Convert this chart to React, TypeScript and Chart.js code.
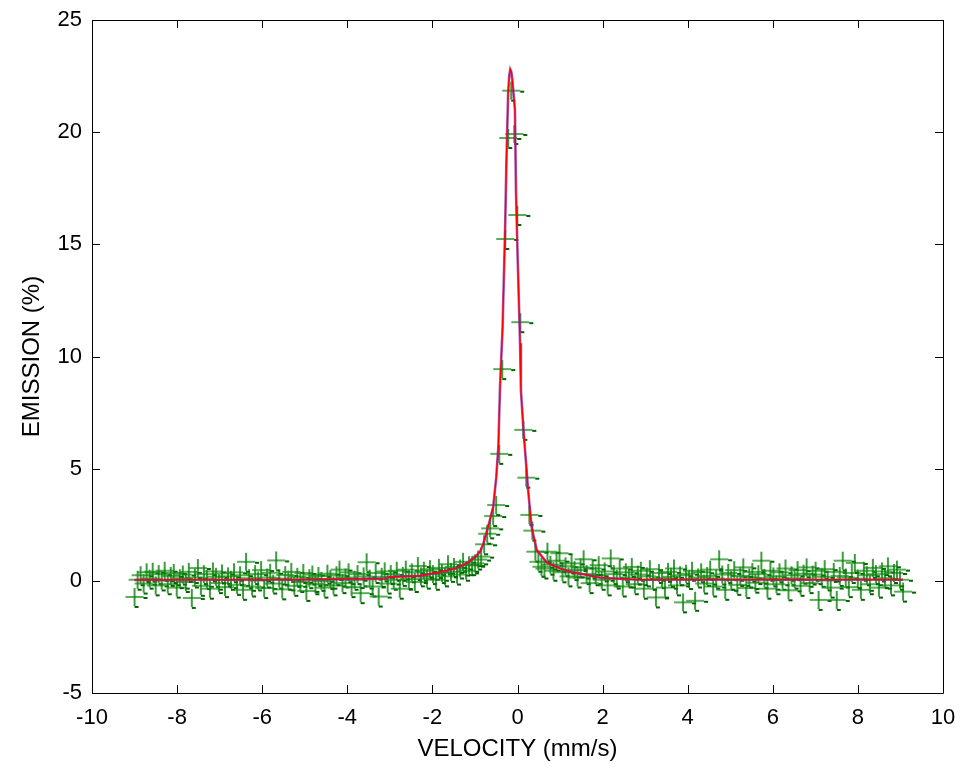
import React, { useEffect, useRef } from 'react';
import { Chart, registerables } from 'chart.js';

Chart.register(...registerables);

// Velocity calibration of the 256 channels (mm/s)
const velStart = -9;
const velEnd = 9.06;

// Measured emission (%) per channel
const emission = [
  -0.72, 0.05, 0.25, -0.12, 0.38, 0.10, 0.41, -0.20, 0.30, 0.02, 0.45, -0.15, 0.22, 0.35, -0.30, 0.12,
  0.28, -0.05, 0.40, -0.76, 0.15, 0.57, -0.22, 0.30, 0.08, -0.35, 0.42, 0.18, -0.10, 0.33, -0.28, 0.20,
  0.05, 0.38, -0.18, 0.25, -0.40, 0.85, 0.12, -0.25, 0.30, 0.02, 0.48, -0.32, 0.15, 0.36, -0.12, 0.91,
  0.10, -0.38, 0.26, 0.05, 0.40, -0.22, 0.18, -0.05, 0.35, -0.45, 0.12, 0.28, -0.15, 0.22, 0.00, -0.30,
  0.32, 0.08, -0.20, 0.25, 0.50, -0.10, 0.15, 0.38, -0.28, 0.05, 0.30, -0.55, 0.20, 0.83, 0.10, -0.25,
  0.35, -0.70, 0.18, 0.42, -0.12, 0.30, 0.05, 0.45, -0.35, 0.22, 0.50, 0.08, 0.38, -0.05, 0.66, 0.20,
  0.45, 0.10, 0.52, 0.30, 0.05, 0.58, 0.35, 0.20, 0.74, 0.40, 0.62, 0.28, 0.55, 0.85, 0.45, 0.70,
  0.70, 0.78, 0.95, 1.08, 1.63, 2.10, 2.34, 2.89, 3.38, 5.66, 9.44, 15.24, 19.74, 21.85, 19.92, 16.31,
  11.53, 6.73, 4.60, 2.94, 2.24, 1.30, 0.85, 0.63, 0.55, 1.30, 0.72, 0.45, 0.90, 1.23, 0.38, 0.65,
  0.20, 0.78, 0.48, 0.15, 0.60, 0.96, 0.30, -0.10, 0.55, 0.25, 0.70, 0.05, 0.42, -0.20, 1.00, 0.30,
  0.10, 0.55, -0.25, 0.38, 0.15, 0.62, -0.15, 0.28, 0.45, -0.35, 0.20, 0.52, 0.05, -0.74, 0.35, 0.12,
  -0.30, 0.40, 0.18, 0.55, -0.20, 0.25, -0.96, 0.32, 0.08, 0.45, -0.89, 0.15, 0.38, -0.12, 0.22, 0.50,
  -0.25, 0.10, 0.96, 0.28, -0.40, 0.35, 0.05, 0.48, -0.18, 0.22, 0.60, -0.32, 0.15, 0.40, -0.08, 0.30,
  0.90, 0.12, -0.35, 0.45, 0.20, -0.15, 0.38, 0.05, 0.55, -0.42, 0.25, 0.10, 0.48, -0.22, 0.32, 0.60,
  -0.10, 0.28, 0.45, -0.85, 0.18, 0.52, 0.02, -0.30, 0.40, -0.85, 0.22, 0.90, 0.15, -0.28, 0.35, 0.80,
  0.10, -0.40, 0.45, 0.25, -0.15, 0.58, 0.30, -0.30, 0.42, 0.12, 0.65, -0.20, 0.35, 0.50, 0.05, -0.48,
];

// Fitted curve
const fitVelocity = [
  -9, -5, -3.1, -3.0, -2.3, -1.9, -1.45, -1.2, -1.0, -0.88, -0.8, -0.72, -0.65, -0.57, -0.5, -0.45,
  -0.41, -0.35, -0.29, -0.26, -0.22, -0.195, -0.17, -0.145, -0.12, -0.06, -0.035, 0.005, 0.06, 0.08,
  0.14, 0.25, 0.33, 0.45, 0.69, 1.0, 1.23, 1.55, 1.94, 2.8, 9.06,
];
const fitEmission = [
  0.04, 0.05, 0.1, 0.17, 0.22, 0.36, 0.55, 0.78, 1.05, 1.3, 1.67, 2.2, 2.7, 3.31, 4.6, 5.98,
  8.7, 11.33, 15.79, 18.76, 21.74, 22.5, 22.8, 22.7, 22.3, 20.99, 17.28, 14.3, 10.59, 8.5,
  6.73, 4.05, 2.41, 1.38, 0.81, 0.56, 0.41, 0.29, 0.14, 0.05, 0.05,
];

const xTickValues = [-10, -8, -6, -4, -2, 0, 2, 4, 6, 8, 10];
const yTickValues = [-5, 0, 5, 10, 15, 20, 25];

const FONT = 'Arial, "Liberation Sans", Helvetica, sans-serif';

function makeMarker(): HTMLCanvasElement {
  const c = document.createElement('canvas');
  c.width = 32;
  c.height = 32;
  const g = c.getContext('2d')!;
  // horizontal arm (lighter, translucent)
  g.strokeStyle = 'rgba(20,140,20,0.7)';
  g.lineWidth = 2;
  g.beginPath();
  g.moveTo(7, 16);
  g.lineTo(25, 16);
  g.stroke();
  // vertical arm (darker)
  g.strokeStyle = 'rgba(0,125,0,0.95)';
  g.lineWidth = 1.6;
  g.beginPath();
  g.moveTo(16, 7);
  g.lineTo(16, 25);
  g.stroke();
  // small trailing dashes
  g.fillStyle = '#006400';
  g.fillRect(25, 16, 4, 2);
  g.fillRect(16, 25, 4, 2);
  return c;
}

const framePlugin = {
  id: 'frameTicks',
  afterDatasetsDraw(chart: any) {
    const { ctx, chartArea, scales } = chart;
    const { left, right, top, bottom } = chartArea;
    const x = scales.x;
    const y = scales.y;
    ctx.save();
    ctx.strokeStyle = '#000';
    ctx.lineWidth = 1;
    ctx.beginPath();
    ctx.rect(Math.round(left) + 0.5, Math.round(top) + 0.5, Math.round(right - left), Math.round(bottom - top));
    ctx.stroke();
    const tl = 8;
    ctx.beginPath();
    xTickValues.forEach((v) => {
      const px = Math.round(x.getPixelForValue(v)) + 0.5;
      ctx.moveTo(px, bottom);
      ctx.lineTo(px, bottom - tl);
      ctx.moveTo(px, top);
      ctx.lineTo(px, top + tl);
    });
    yTickValues.forEach((v) => {
      const py = Math.round(y.getPixelForValue(v)) + 0.5;
      ctx.moveTo(left, py);
      ctx.lineTo(left + tl, py);
      ctx.moveTo(right, py);
      ctx.lineTo(right - tl, py);
    });
    ctx.stroke();
    ctx.restore();
  },
};

export default function App() {
  const ref = useRef<HTMLCanvasElement | null>(null);

  useEffect(() => {
    if (!ref.current) return;
    const step = (velEnd - velStart) / (emission.length - 1);
    const points = emission.map((e, i) => ({ x: velStart + i * step, y: e }));
    const fit = fitVelocity.map((v, i) => ({ x: v, y: fitEmission[i] }));
    const marker = makeMarker();

    const chart = new Chart(ref.current, {
      type: 'scatter',
      data: {
        datasets: [
          {
            label: 'fit (red)',
            data: fit,
            showLine: true,
            borderColor: '#ff0000',
            borderWidth: 1.3,
            pointRadius: 0,
            order: 0,
          } as any,
          {
            label: 'fit (blue)',
            data: fit,
            showLine: true,
            borderColor: 'rgba(140,40,170,0.75)',
            borderWidth: 2.6,
            pointRadius: 0,
            order: 1,
          } as any,
          {
            label: 'data',
            data: points,
            pointStyle: marker,
            pointRadius: 8,
            showLine: false,
            order: 2,
          } as any,
        ],
      },
      options: {
        responsive: false,
        animation: false,
        maintainAspectRatio: false,
        layout: { padding: { left: 0, top: 20, right: 25, bottom: 0 } },
        plugins: {
          legend: { display: false },
          tooltip: { enabled: false },
        },
        scales: {
          x: {
            type: 'linear',
            min: -10,
            max: 10,
            grid: { display: false, drawTicks: false },
            border: { display: false },
            afterBuildTicks: (s: any) => {
              s.ticks = xTickValues.map((v) => ({ value: v }));
            },
            afterFit: (s: any) => {
              s.height = 76;
              s.paddingLeft = 0;
              s.paddingRight = 0;
            },
            ticks: {
              color: '#000',
              font: { family: FONT, size: 22 },
              padding: 12,
              maxRotation: 0,
              autoSkip: false,
            },
            title: {
              display: true,
              text: 'VELOCITY (mm/s)',
              color: '#000',
              font: { family: FONT, size: 24 },
              padding: { top: 0, bottom: 5 },
            },
          },
          y: {
            type: 'linear',
            min: -5,
            max: 25,
            grid: { display: false, drawTicks: false },
            border: { display: false },
            afterBuildTicks: (s: any) => {
              s.ticks = yTickValues.map((v) => ({ value: v }));
            },
            afterFit: (s: any) => {
              s.width = 92;
              s.paddingTop = 0;
              s.paddingBottom = 0;
            },
            ticks: {
              color: '#000',
              font: { family: FONT, size: 22 },
              padding: 10,
              autoSkip: false,
            },
            title: {
              display: true,
              text: 'EMISSION (%)',
              color: '#000',
              font: { family: FONT, size: 24 },
              padding: { top: 18, bottom: 0 },
            },
          },
        },
      },
      plugins: [framePlugin],
    });
    return () => chart.destroy();
  }, []);

  return (
    <div style={{ position: 'fixed', left: 0, top: 0, width: 968, height: 769, background: '#fff' }}>
      <canvas ref={ref} width={968} height={769} style={{ display: 'block', width: 968, height: 769 }} />
    </div>
  );
}
